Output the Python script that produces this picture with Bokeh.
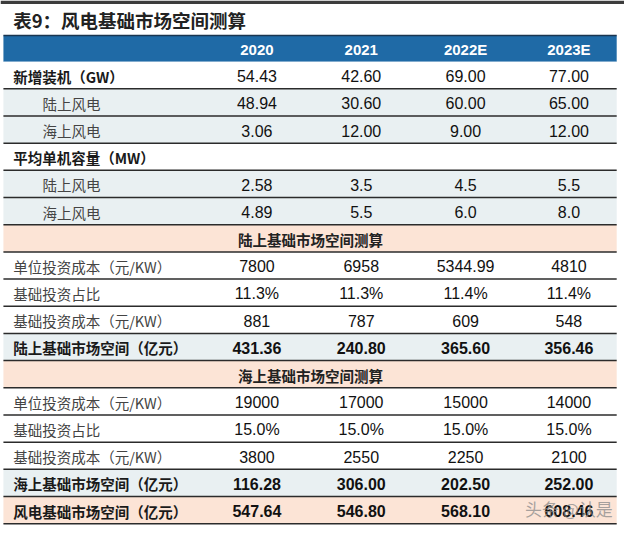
from bokeh.plotting import figure
from bokeh.models import Range1d, ColumnDataSource
from bokeh.core.properties import value
from bokeh.embed import file_html
from bokeh.resources import INLINE

title = "表9：风电基础市场空间测算"
years = ["2020", "2021", "2022E", "2023E"]
labels = ["新增装机（GW）", "陆上风电", "海上风电", "平均单机容量（MW）", "陆上风电", "海上风电",
          "陆上基础市场空间测算", "单位投资成本（元/KW）", "基础投资占比", "基础投资成本（元/KW）",
          "陆上基础市场空间（亿元）", "海上基础市场空间测算", "单位投资成本（元/KW）", "基础投资占比",
          "基础投资成本（元/KW）", "海上基础市场空间（亿元）", "风电基础市场空间（亿元）"]
v2020 = ["54.43", "48.94", "3.06", "", "2.58", "4.89", "", "7800", "11.3%", "881", "431.36", "",
         "19000", "15.0%", "3800", "116.28", "547.64"]
v2021 = ["42.60", "30.60", "12.00", "", "3.5", "5.5", "", "6958", "11.3%", "787", "240.80", "",
         "17000", "15.0%", "2550", "306.00", "546.80"]
v2022 = ["69.00", "60.00", "9.00", "", "4.5", "6.0", "", "5344.99", "11.4%", "609", "365.60", "",
         "15000", "15.0%", "2250", "202.50", "568.10"]
v2023 = ["77.00", "65.00", "12.00", "", "5.5", "8.0", "", "4810", "11.4%", "548", "356.46", "",
         "14000", "15.0%", "2100", "252.00", "608.46"]
kinds = ["head", "sub", "sub", "head", "sub", "sub", "section", "plain", "plain", "plain", "total",
         "section", "plain", "plain", "plain", "total", "grand"]

# layout constants (reference pixel space)
X0, X1 = 3, 632
HEAD_TOP, HEAD_BOT = 36, 63
ROW_H = 28.0
COL_X = [263, 370, 477, 583]

fill_map = {"head": "#ffffff", "sub": "#e9f0f2", "section": "#fce4d6", "plain": "#ffffff",
            "total": "#e9f0f2", "grand": "#fce4d6"}

p = figure(width=624, height=529, x_range=Range1d(0, 640), y_range=Range1d(545, 0),
           output_backend="svg", toolbar_location=None, min_border=0)
p.axis.visible = False
p.grid.visible = False
p.outline_line_color = None
p.background_fill_color = "#ffffff"
p.border_fill_color = "#ffffff"

# top dark strip
p.quad(left=[0], right=[640], top=[0], bottom=[3.5], fill_color="#3c3c3c", line_color=None)

# title
p.text(x=[13], y=[20], text=[title], text_font=value("Noto Sans CJK SC"), text_font_style="bold",
       text_font_size="18.5px", text_color="#222222", text_baseline="middle", text_align="left")

# header band
p.quad(left=[X0], right=[X1], top=[HEAD_TOP], bottom=[HEAD_BOT], fill_color="#1f6aa6", line_color=None)
p.segment(x0=[X0], x1=[X1], y0=[HEAD_TOP], y1=[HEAD_TOP], line_color="#1a3550", line_width=1.5)
p.text(x=COL_X, y=[(HEAD_TOP + HEAD_BOT) / 2 + 1] * 4, text=years,
       text_font=value("Liberation Sans"), text_font_style="bold", text_font_size="15px",
       text_color="#ffffff", text_align="center", text_baseline="middle")

n = len(labels)
tops = [HEAD_BOT + ROW_H * i for i in range(n)]
bots = [t + ROW_H for t in tops]
mids = [(t + b) / 2 + 1 for t, b in zip(tops, bots)]

src = ColumnDataSource(dict(left=[X0] * n, right=[X1] * n, top=tops, bottom=bots,
                            fill=[fill_map[k] for k in kinds]))
p.quad(left="left", right="right", top="top", bottom="bottom", fill_color="fill",
       line_color=None, source=src)

# row separators
p.segment(x0=[X0] * n, x1=[X1] * n, y0=bots, y1=bots, line_color="#2b2b2b", line_width=1.5)

# labels
for i, (lab, k) in enumerate(zip(labels, kinds)):
    if k == "section":
        p.text(x=[318], y=[mids[i]], text=[lab], text_font=value("Noto Sans CJK SC"),
               text_font_style="bold", text_font_size="14.5px", text_color="#222222",
               text_align="center", text_baseline="middle")
        continue
    x = 43 if k == "sub" else 13
    bold = k in ("head", "total", "grand")
    p.text(x=[x], y=[mids[i]], text=[lab], text_font=value("Noto Sans CJK SC"),
           text_font_style="bold" if bold else "normal", text_font_size="14.5px",
           text_color="#1a1a1a" if bold else "#444444", text_align="left", text_baseline="middle")

# values
for col, vals in zip(COL_X, [v2020, v2021, v2022, v2023]):
    for i, (v, k) in enumerate(zip(vals, kinds)):
        if not v:
            continue
        bold = k in ("total", "grand")
        p.text(x=[col], y=[mids[i]], text=[v], text_font=value("Liberation Sans"),
               text_font_style="bold" if bold else "normal", text_font_size="16px",
               text_color="#111111", text_align="center", text_baseline="middle")

# watermark
p.text(x=[583], y=[bots[-1] - 16], text=["头条 @认是"], text_font=value("Noto Sans CJK SC"),
       text_font_size="17px", text_color="#8a8a8a", text_alpha=0.75, text_align="center",
       text_baseline="middle")

open("out.html", "w").write(file_html(p, INLINE))
